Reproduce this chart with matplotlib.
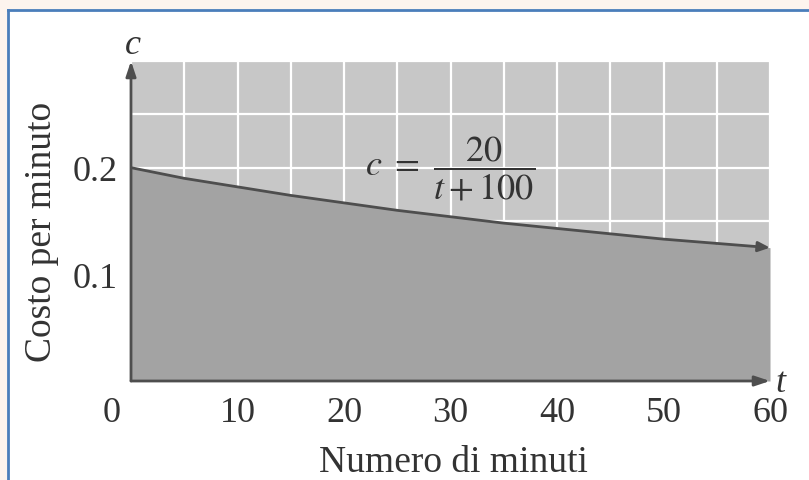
import numpy as np
import matplotlib
matplotlib.use('Agg')
from matplotlib import pyplot as plt
from matplotlib.transforms import ScaledTranslation
from matplotlib.lines import Line2D
from matplotlib.patches import Rectangle

plt.rcParams['font.family'] = ['Liberation Serif', 'DejaVu Serif']
plt.rcParams['mathtext.fontset'] = 'stix'

# costo per minuto c = 20/(t+100)
t = [0, 5, 10, 15, 20, 25, 30, 35, 40, 45, 50, 55, 60]
c = [0.200, 0.190, 0.182, 0.174, 0.167, 0.160, 0.154, 0.148, 0.143, 0.138, 0.133, 0.129, 0.125]
xticks = [0, 10, 20, 30, 40, 50, 60]
xlabels = ['0', '10', '20', '30', '40', '50', '60']
yticks = [0.1, 0.2]
ylabels = ['0.1', '0.2']

light = '#c7c7c7'
dark = '#a3a3a3'
ink = '#4e4e4e'
txt = '#333333'
W, H = 809, 481

fig = plt.figure(figsize=(W / 100, H / 100), dpi=100, facecolor='white')

# cornice della pagina (striscia crema + bordo blu)
fig.patches.append(Rectangle((0, 1 - 11 / H), 1, 11 / H, transform=fig.transFigure, color='#fdf4ee', zorder=0))
fig.patches.append(Rectangle((0, 0), 8 / W, 1, transform=fig.transFigure, color='#fdf4ee', zorder=0))
fig.lines.append(Line2D([8 / W, 1], [1 - 11 / H, 1 - 11 / H], transform=fig.transFigure, color='#4a7ebb', lw=2))
fig.lines.append(Line2D([8 / W, 8 / W], [0, 1 - 11 / H], transform=fig.transFigure, color='#4a7ebb', lw=2))

ax = fig.add_axes([131 / W, 1 - 382 / H, 639 / W, 320 / H])
ax.set_facecolor(light)
ax.set_xlim(0, 60)
ax.set_ylim(0, 0.3)
for s in ax.spines.values():
    s.set_visible(False)

ax.set_xticks(xticks)
ax.set_xticklabels(xlabels)
ax.set_yticks(yticks)
ax.set_yticklabels(ylabels)
ax.set_xticks(np.arange(0, 61, 5), minor=True)
ax.set_yticks(np.arange(0, 0.31, 0.05), minor=True)
ax.tick_params(which='both', length=0, labelsize=26, colors=txt)
ax.tick_params(axis='x', pad=11)
ax.tick_params(axis='y', pad=9.5)
ax.set_axisbelow(True)
ax.grid(which='both', color='white', lw=1.6)
# lo "0" e' spostato a sinistra dell'origine
ax.get_xticklabels()[0].set_transform(ax.get_xticklabels()[0].get_transform()
                                      + ScaledTranslation(-19 / 100, 0, fig.dpi_scale_trans))

ax.fill_between(t, c, 0, color=dark, zorder=2, lw=0)
ax.plot(t[:-1], c[:-1], color=ink, lw=2, zorder=3, solid_capstyle='butt')
ax.annotate('', xy=(t[-1], c[-1]), xytext=(t[-2], c[-2]),
            arrowprops=dict(arrowstyle='-|>,head_length=0.7,head_width=0.3', color=ink, lw=2,
                            shrinkA=0, shrinkB=0), zorder=4)

# assi con frecce
ax.annotate('', xy=(0, 1.0), xytext=(0, 0), xycoords='axes fraction',
            arrowprops=dict(arrowstyle='-|>,head_length=0.9,head_width=0.3', color=ink, lw=2,
                            shrinkA=0, shrinkB=0), zorder=5, annotation_clip=False)
ax.annotate('', xy=(1.0, 0), xytext=(0, 0), xycoords='axes fraction',
            arrowprops=dict(arrowstyle='-|>,head_length=0.9,head_width=0.3', color=ink, lw=2,
                            shrinkA=0, shrinkB=0), zorder=5, annotation_clip=False)

ax.text(0.003, 1.053, 'c', transform=ax.transAxes, fontsize=26, style='italic',
        ha='center', va='center', color=txt)
ax.text(1.017, -0.006, 't', transform=ax.transAxes, fontsize=26, style='italic',
        ha='center', va='center', color=txt)

ax.text(30, 0.2, r'$c\ =\ \dfrac{20}{t + 100}$', fontsize=26, ha='center', va='center',
        color=txt, zorder=6)

ax.set_xlabel('Numero di minuti', fontsize=27, color=txt)
ax.xaxis.set_label_coords(0.504, -0.253)
ax.xaxis.label.set_va('center')
ax.set_ylabel('Costo per minuto', fontsize=27, color=txt)
ax.yaxis.set_label_coords(-0.139, 0.47)
ax.yaxis.label.set_va('center')

fig.savefig('out.png', dpi=100, facecolor=fig.get_facecolor())
